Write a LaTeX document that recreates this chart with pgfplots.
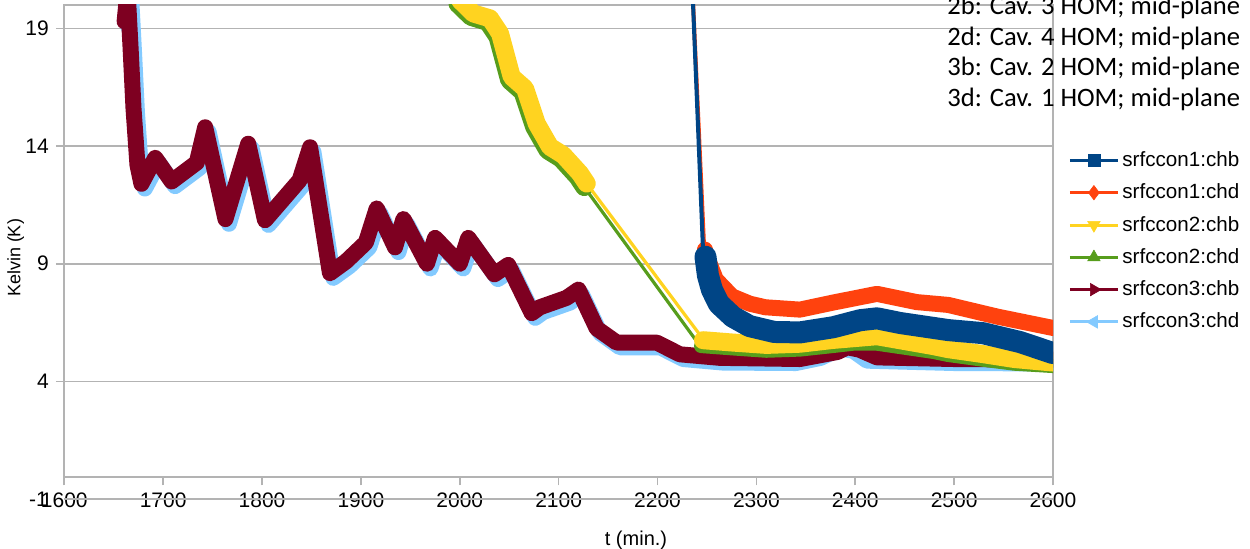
\documentclass[border=0pt]{standalone}
\usepackage{fontspec}
\setmainfont{Liberation Sans}
\newfontfamily\carlito{Carlito}
\usepackage{pgfplots}
\pgfplotsset{compat=1.18}
\definecolor{cA}{HTML}{004586}
\definecolor{cB}{HTML}{FF420E}
\definecolor{cC}{HTML}{FFD320}
\definecolor{cD}{HTML}{579D1C}
\definecolor{cE}{HTML}{7E0021}
\definecolor{cF}{HTML}{83CAFF}
\definecolor{gridgray}{HTML}{B3B3B3}
\begin{document}
\begin{tikzpicture}[x=1pt,y=1pt]
\begin{axis}[
  at={(32.15pt,36pt)}, anchor=south west,
  scale only axis, width=494.35pt, height=236pt,
  xmin=1600, xmax=2600, ymin=-0.065, ymax=20,
  xtick={1600,1700,...,2600}, ytick={4,9,14,19},
  xtick pos=left, ytick pos=left,
  ymajorgrids, grid style={draw=gridgray, line width=0.8pt},
  axis line style={draw=gridgray, line width=0.8pt},
  tick style={draw=gridgray, line width=0.8pt},
  tick align=outside, major tick length=4.25pt,
  ticklabel style={font=\fontsize{10.5}{12}\selectfont, text=black},
  /pgf/number format/assume math mode=true,
  /pgf/number format/1000 sep={},
  clip mode=individual,
  legend image code/.code={\draw[mark repeat=2,mark phase=2,#1] plot coordinates {(0pt,0pt) (12pt,0pt) (24pt,0pt)};},
  legend style={draw=none, fill=none, at={(1.0152,0.697)}, anchor=north west, inner sep=0pt,
    row sep=4.15pt, column sep=0.5pt, font=\fontsize{10.3}{12}\selectfont,
    nodes={inner sep=1pt, text height=8pt, text depth=2pt}},
  legend cell align=left,
]
% legend images
\addlegendimage{draw=cA, line width=1.5pt, mark=square*, mark size=3pt, mark options={fill=cA, draw=cA, line width=0.3pt, solid}}
\addlegendentry{srfccon1:chb}
\addlegendimage{draw=cB, line width=1.5pt, mark=diamond*, mark size=3.6pt, mark options={fill=cB, draw=cB, line width=0.3pt, solid}}
\addlegendentry{srfccon1:chd}
\addlegendimage{draw=cC, line width=1.5pt, mark=triangle*, mark size=3.6pt, mark options={fill=cC, draw=cC, line width=0.3pt, solid, rotate=180}}
\addlegendentry{srfccon2:chb}
\addlegendimage{draw=cD, line width=1.5pt, mark=triangle*, mark size=3.6pt, mark options={fill=cD, draw=cD, line width=0.3pt, solid}}
\addlegendentry{srfccon2:chd}
\addlegendimage{draw=cE, line width=1.5pt, mark=triangle*, mark size=3.6pt, mark options={fill=cE, draw=cE, line width=0.3pt, solid, rotate=-90}}
\addlegendentry{srfccon3:chb}
\addlegendimage{draw=cF, line width=1.5pt, mark=triangle*, mark size=3.6pt, mark options={fill=cF, draw=cF, line width=0.3pt, solid, rotate=90}}
\addlegendentry{srfccon3:chd}

% srfccon3:chd (light blue)
\addplot[forget plot, cF, line width=8pt, line join=round, line cap=round] coordinates {
(1664.5,19.1)(1667.5,20.4)(1670.5,18.0)(1673.5,15.4)(1677.5,13.0)(1681.5,12.2)(1695.5,13.3)(1712,12.3)(1737.5,13.1)(1746,14.6)(1766.5,10.7)(1789.5,13.9)(1806.5,10.65)(1841.5,12.35)(1852,13.75)(1872,8.4)(1888.5,8.9)(1908.5,9.7)(1919.5,11.15)(1938,9.5)(1946.5,10.7)(1970.3,8.8)(1978.5,9.9)(2003.5,8.8)(2012,9.9)(2038.5,8.35)(2052.5,8.75)(2076.3,6.7)(2084.5,6.95)(2111.5,7.35)(2123.5,7.7)(2142,6.05)(2162,5.45)(2202.5,5.45)(2226,4.95)(2266,4.8)(2340,4.78)(2365,5.0)(2385,5.4)(2398,5.3)(2412,4.88)(2500,4.78)(2600,4.76)
};
% srfccon3:chb (dark red)
\addplot[forget plot, cE, line width=8pt, line join=round, line cap=round] coordinates {
(1661,19.3)(1664,20.6)(1667,18.2)(1670,15.6)(1674,13.2)(1678,12.4)(1692,13.5)(1708.6,12.5)(1734,13.3)(1742.5,14.8)(1763,10.9)(1786,14.1)(1803,10.85)(1838,12.55)(1848.6,13.95)(1868.7,8.6)(1885,9.1)(1905,9.9)(1916,11.35)(1934.5,9.7)(1943,10.9)(1966.8,9.0)(1975,10.1)(2000,9.0)(2008.6,10.1)(2035,8.55)(2049,8.95)(2072.8,6.9)(2081,7.15)(2108,7.55)(2120,7.9)(2138.5,6.25)(2158.7,5.65)(2199,5.65)(2222.7,5.15)(2263,5.0)(2344,4.95)(2382,5.25)(2392,5.45)(2404,5.35)(2422,5.02)(2500,4.95)(2600,4.92)
};
% srfccon2:chd (green)
\addplot[forget plot, cD, line width=9pt, line join=round, line cap=round] coordinates {
(1997.7,20.05)(2011.2,19.5)(2028.1,19.28)(2038.2,18.64)(2050,16.8)(2063.5,16.3)(2075.3,14.81)(2088.8,13.82)(2102.2,13.47)(2119.1,12.69)(2125.9,12.26)
};
\addplot[forget plot, cD, line width=1.6pt] coordinates {(2125.9,12.26)(2244,5.45)};
\addplot[forget plot, cD, line width=7pt, line join=round, line cap=round] coordinates {
(2244,5.5)(2276,5.4)(2310,5.3)(2344,5.35)(2377,5.5)(2398,5.6)(2422,5.6)(2479,5.25)(2494,5.12)(2529,4.92)(2561,4.75)(2600,4.65)
};
% srfccon2:chb (yellow)
\addplot[forget plot, cC, line width=9pt, line join=round, line cap=round] coordinates {
(2000.2,20.2)(2013.7,19.64)(2030.6,19.43)(2040.7,18.79)(2052.5,16.95)(2066,16.45)(2077.8,14.96)(2091.3,13.97)(2104.7,13.62)(2121.6,12.84)(2128.4,12.41)
};
\addplot[forget plot, cC, line width=1.6pt] coordinates {(2128.4,12.41)(2246,5.8)};
\addplot[forget plot, cC, line width=9pt, line join=round, line cap=round] coordinates {
(2246,5.75)(2276,5.65)(2310,5.55)(2344,5.6)(2377,5.76)(2422,5.92)(2479,5.5)(2494,5.37)(2529,5.16)(2561,4.95)(2600,4.8)
};
% srfccon1:chd (orange)
\addplot[forget plot, cB, line width=2pt] coordinates {(2235,21)(2247,9.8)};
\addplot[forget plot, cB, line width=8pt, line join=round, line cap=round] coordinates {
(2248,9.6)(2249,9.4)(2259,8.33)(2275.5,7.61)(2293.5,7.3)(2309,7.15)(2344,7.05)(2377.6,7.35)(2422,7.72)(2462,7.37)(2494,7.25)(2544,6.75)(2600,6.27)
};
% srfccon1:chb (blue)
\addplot[forget plot, cA, line width=2pt] coordinates {(2235,21)(2246,9.6)};
\addplot[forget plot, cA, line width=11pt, line join=round, line cap=round] coordinates {
(2248.5,9.3)(2251,8.5)(2255,7.9)(2262,7.3)(2276,6.75)(2293,6.35)(2318,6.1)(2344,6.08)(2377.6,6.3)(2405,6.6)(2422,6.68)(2445.5,6.48)(2494,6.18)(2529,6.05)(2566.8,5.67)(2600,5.2)
};
\end{axis}
\draw[gridgray, line width=1.2pt] (32.15pt,25pt) -- (526.5pt,25pt);
\node[anchor=east, font=\fontsize{10.5}{12}\selectfont, inner sep=0pt] at (24.1pt,25pt) {-1};
\node[font=\fontsize{10}{12}\selectfont] at (318pt,4.5pt) {t (min.)};
\node[rotate=90, font=\fontsize{9}{10}\selectfont] at (7.85pt,145.5pt) {Kelvin (K)};
\begin{scope}[every node/.style={anchor=west, inner sep=0pt, font=\carlito\fontsize{13.3}{15}\selectfont}]
\node at (473.5pt,271pt) {2b: Cav. 3 HOM; mid-plane};
\node at (473.5pt,255.5pt) {2d: Cav. 4 HOM; mid-plane};
\node at (473.5pt,240.2pt) {3b: Cav. 2 HOM; mid-plane};
\node at (473.5pt,225pt) {3d: Cav. 1 HOM; mid-plane};
\end{scope}
\pgfresetboundingbox
\path[use as bounding box] (0,0) rectangle (625pt,274.5pt);
\end{tikzpicture}
\end{document}
